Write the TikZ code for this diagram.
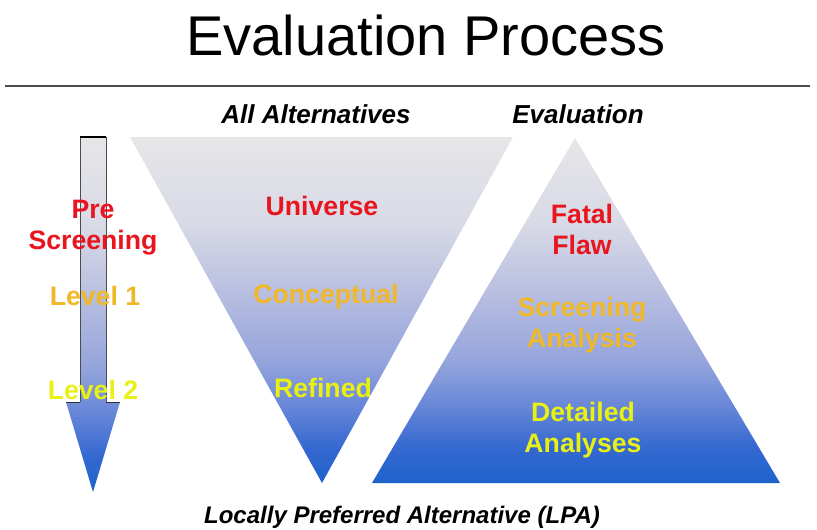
\documentclass[tikz,border=0pt]{standalone}
\usepackage{fontspec}
\setmainfont{Liberation Sans}
\usetikzlibrary{positioning}
\definecolor{stagered}{RGB}{232,20,30}
\definecolor{stageorange}{RGB}{240,184,40}
\definecolor{stageyellow}{RGB}{232,240,20}
% blue fade used for funnel, pyramid and arrow
\pgfdeclareverticalshading{bluefade}{100bp}{
    color(0bp)=(rgb,255:red,31;green,98;blue,204);
    color(25bp)=(rgb,255:red,31;green,98;blue,204);
    color(30bp)=(rgb,255:red,52;green,104;blue,208);
    color(36.5bp)=(rgb,255:red,106;green,136;blue,216);
    color(42.5bp)=(rgb,255:red,148;green,164;blue,220);
    color(52.5bp)=(rgb,255:red,184;green,190;blue,224);
    color(62.5bp)=(rgb,255:red,216;green,218;blue,230);
    color(75bp)=(rgb,255:red,230;green,230;blue,232);
    color(100bp)=(rgb,255:red,230;green,230;blue,232)}
\tikzset{
funnel/.style={shading=bluefade, draw=none},
stage/.style={font=\bfseries\fontsize{20}{23.25}\selectfont, align=center, anchor=base},
redstage/.style={stage, text=stagered},
orangestage/.style={stage, text=stageorange},
yellowstage/.style={stage, text=stageyellow},
heading/.style={font=\bfseries\itshape\fontsize{19.5}{22}\selectfont, anchor=base},
}
\tikzstyle{every node}=[inner sep=0pt]

\begin{document}
\begin{tikzpicture}[x=0.75pt,y=-0.75pt]
    \useasboundingbox (0,0) rectangle (817,529);

    % title and rule
    \node[font=\fontsize{42}{46}\selectfont, anchor=base] (title) at (426,55) {Evaluation Process};
    \draw[gray!60!black, line width=1.1pt] (5,86) -- (810,86);

    % downward arrow on the left
    \path[funnel] (80,137) -- (106,137) -- (106,402) -- (120,402)
        -- (93,492) -- (66,402) -- (80,402) -- cycle;
    \draw[gray!60!black, line width=0.6pt] (80,402) -- (80,137) -- (106,137) -- (106,402);
    \draw[black, line width=1.2pt] (80,137) -- (106,137);
    \draw[gray!40!black, line width=0.4pt] (66,402) -- (80,402) (106,402) -- (120,402);

    % funnel of alternatives and evaluation pyramid
    \path[funnel] (130,137) -- (513,137) -- (322,483) -- cycle;
    \path[funnel] (575,138) -- (780,483) -- (372,483) -- cycle;

    \node[heading] (alts) at (316,123) {All Alternatives};
    \node[heading] (eval) at (578,123) {Evaluation};
    \node[heading, font=\bfseries\itshape\fontsize{18}{20}\selectfont] (lpa) at (402,523)
        {Locally Preferred Alternative (LPA)};

    % levels (base anchor sits on the last line)
    \node[redstage] (prescreen) at (93,249) {Pre\\Screening};
    \node[orangestage] (level1) at (95,305) {Level 1};
    \node[yellowstage] (level2) at (93,399) {Level 2};

    % alternatives
    \node[redstage] (universe) at (322,215) {Universe};
    \node[orangestage] (conceptual) at (326,303) {Conceptual};
    \node[yellowstage] (refined) at (323,397) {Refined};

    % evaluation steps
    \node[redstage] (fatal) at (582,254) {Fatal\\Flaw};
    \node[orangestage] (screening) at (582,347) {Screening\\Analysis};
    \node[yellowstage] (detailed) at (583,452) {Detailed\\Analyses};
\end{tikzpicture}
\end{document}
